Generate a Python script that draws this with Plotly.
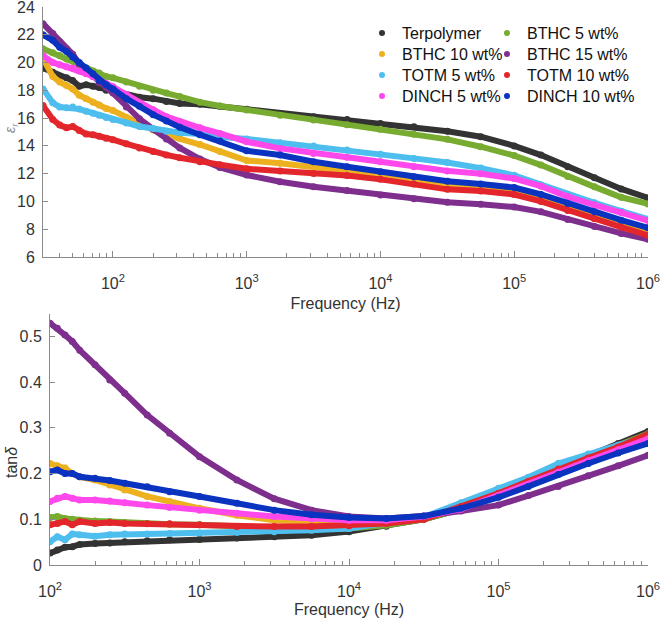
import plotly.graph_objects as go

# ---------------- data ----------------
names = ["Terpolymer", "BTHC 5 wt%", "BTHC 10 wt%", "BTHC 15 wt%",
         "TOTM 5 wt%", "TOTM 10 wt%", "DINCH 5 wt%", "DINCH 10 wt%"]
colors = ["#333333", "#77AC30", "#EDB120", "#7E2F8E",
          "#4DBEEE", "#E3262B", "#FF48EC", "#0A33BF"]

freq_top = [30, 35.5, 40, 45, 50, 56, 63, 71, 79, 89,
            100, 126, 158, 200, 251, 316, 447, 631, 1000, 1778,
            3162, 5623, 10000, 17783, 31623, 56234, 100000, 158489, 251189, 398107,
            630957, 1000000]

eps_terpolymer = [19.6, 19.3, 19.0, 18.9, 18.7, 18.3, 18.4, 18.3, 18.2, 18.0,
                  17.9, 17.7, 17.5, 17.4, 17.2, 17.05, 17.0, 16.85, 16.63, 16.34,
                  16.1, 15.9, 15.62, 15.38, 15.05, 14.66, 14.0, 13.34, 12.5, 11.7,
                  10.9, 10.25]
eps_bthc5 = [21.0, 20.7, 20.5, 20.25, 20.1, 19.8, 19.6, 19.4, 19.25, 19.0,
             18.9, 18.6, 18.3, 18.0, 17.8, 17.55, 17.15, 16.87, 16.58, 16.2,
             15.86, 15.53, 15.19, 14.83, 14.47, 13.94, 13.3, 12.62, 11.8, 11.05,
             10.3, 9.82]
eps_bthc10 = [20.3, 19.0, 18.6, 18.35, 18.1, 17.65, 17.4, 17.15, 16.95, 16.7,
              16.55, 16.05, 15.65, 15.15, 14.8, 14.55, 14.1, 13.6, 12.95, 12.75,
              12.5, 12.22, 11.9, 11.54, 11.18, 11.0, 10.7, 10.2, 9.55, 9.0,
              8.4, 7.8]
eps_bthc15 = [22.8, 22.1, 21.5, 21.0, 20.6, 19.9, 19.45, 19.0, 18.55, 18.2,
              17.8, 16.8, 15.95, 15.2, 14.5, 13.85, 13.05, 12.45, 11.9, 11.42,
              11.06, 10.78, 10.46, 10.2, 9.95, 9.8, 9.6, 9.25, 8.7, 8.2,
              7.7, 7.27]
eps_totm5 = [18.1, 17.1, 16.8, 16.75, 16.8, 16.65, 16.5, 16.35, 16.2, 16.05,
             15.9, 15.65, 15.4, 15.25, 15.05, 14.95, 14.85, 14.65, 14.5, 14.23,
             13.99, 13.7, 13.39, 13.1, 12.8, 12.4, 11.88, 11.2, 10.5, 9.9,
             9.3, 8.72]
eps_totm10 = [16.9, 15.9, 15.5, 15.3, 15.4, 15.1, 14.85, 14.8, 14.7, 14.55,
              14.45, 14.15, 13.85, 13.6, 13.35, 13.15, 12.85, 12.65, 12.35, 12.2,
              12.02, 11.86, 11.59, 11.26, 10.87, 10.75, 10.5, 10.0, 9.35, 8.75,
              8.15, 7.55]
eps_dinch5 = [20.5, 20.0, 19.85, 19.7, 19.6, 19.4, 19.2, 19.0, 18.8, 18.5,
              18.25, 17.7, 17.1, 16.6, 16.1, 15.75, 15.3, 14.9, 14.3, 13.82,
              13.46, 13.18, 12.86, 12.5, 12.2, 12.0, 11.65, 11.1, 10.35, 9.75,
              9.2, 8.62]
eps_dinch10 = [22.0, 21.6, 21.1, 20.8, 20.4, 20.0, 19.6, 19.2, 18.7, 18.4,
               18.1, 17.4, 16.85, 16.25, 15.8, 15.35, 14.8, 14.35, 13.65, 13.34,
               12.86, 12.5, 12.14, 11.78, 11.45, 11.25, 11.0, 10.5, 9.85, 9.25,
               8.65, 8.1]

freq_bot = [100, 112, 126, 141, 158, 200, 251, 316, 447, 631,
            1000, 1778, 3162, 5623, 10000, 17783, 31623, 56234, 100000, 158489,
            251189, 398107, 630957, 1000000]

tan_terpolymer = [0.026, 0.033, 0.039, 0.040, 0.045, 0.047, 0.048, 0.051, 0.053, 0.055,
                  0.056, 0.059, 0.062, 0.065, 0.073, 0.085, 0.100, 0.122, 0.155, 0.184,
                  0.212, 0.238, 0.266, 0.292]
tan_bthc5 = [0.104, 0.106, 0.102, 0.100, 0.098, 0.096, 0.095, 0.093, 0.091, 0.089,
             0.088, 0.084, 0.080, 0.078, 0.080, 0.087, 0.100, 0.122, 0.155, 0.182,
             0.210, 0.237, 0.262, 0.287]
tan_bthc10 = [0.222, 0.217, 0.212, 0.200, 0.193, 0.186, 0.175, 0.164, 0.150, 0.139,
              0.124, 0.109, 0.098, 0.094, 0.093, 0.095, 0.104, 0.122, 0.153, 0.178,
              0.205, 0.230, 0.255, 0.280]
tan_bthc15 = [0.529, 0.518, 0.503, 0.489, 0.470, 0.438, 0.405, 0.376, 0.328, 0.288,
              0.237, 0.186, 0.145, 0.120, 0.106, 0.102, 0.107, 0.118, 0.131, 0.152,
              0.172, 0.195, 0.217, 0.240]
tan_totm5 = [0.051, 0.062, 0.055, 0.068, 0.066, 0.063, 0.066, 0.068, 0.068, 0.069,
             0.070, 0.071, 0.073, 0.076, 0.080, 0.092, 0.105, 0.136, 0.168, 0.192,
             0.222, 0.243, 0.262, 0.280]
tan_totm10 = [0.088, 0.091, 0.095, 0.088, 0.095, 0.091, 0.093, 0.091, 0.090, 0.090,
              0.088, 0.084, 0.084, 0.084, 0.086, 0.091, 0.100, 0.128, 0.157, 0.183,
              0.210, 0.234, 0.258, 0.286]
tan_dinch5 = [0.139, 0.146, 0.150, 0.146, 0.142, 0.142, 0.140, 0.136, 0.131, 0.126,
              0.120, 0.113, 0.106, 0.101, 0.098, 0.098, 0.106, 0.122, 0.152, 0.176,
              0.203, 0.228, 0.252, 0.276]
tan_dinch10 = [0.204, 0.208, 0.200, 0.200, 0.193, 0.190, 0.185, 0.179, 0.171, 0.160,
               0.150, 0.135, 0.120, 0.110, 0.104, 0.102, 0.107, 0.124, 0.148, 0.172,
               0.198, 0.222, 0.245, 0.266]

eps_series = [eps_terpolymer, eps_bthc5, eps_bthc10, eps_bthc15,
              eps_totm5, eps_totm10, eps_dinch5, eps_dinch10]
tan_series = [tan_terpolymer, tan_bthc5, tan_bthc10, tan_bthc15,
              tan_totm5, tan_totm10, tan_dinch5, tan_dinch10]

decade_vals = [100, 1000, 10000, 100000, 1000000]
decade_text = ["10<sup>2</sup>", "10<sup>3</sup>", "10<sup>4</sup>",
               "10<sup>5</sup>", "10<sup>6</sup>"]
eps_ticks = [6, 8, 10, 12, 14, 16, 18, 20, 22, 24]
tan_ticks = [0, 0.1, 0.2, 0.3, 0.4, 0.5]
tan_ticktext = ["0", "0.1", "0.2", "0.3", "0.4", "0.5"]

# ---------------- figure ----------------
W, H = 661, 618
FONT = "Arial, Liberation Sans, sans-serif"
AX = "#8a8a8a"
TXT = "#333333"

minor_vals = [m * 10 ** e for e in range(1, 6) for m in range(2, 10)]

fig = go.Figure()
for i, (nm, col) in enumerate(zip(names, colors)):
    fig.add_trace(go.Scatter(
        x=freq_top, y=eps_series[i], mode="lines+markers", name=nm,
        line=dict(color=col, width=6), marker=dict(color=col, size=7),
        xaxis="x", yaxis="y", showlegend=False))
for i, (nm, col) in enumerate(zip(names, colors)):
    fig.add_trace(go.Scatter(
        x=freq_bot, y=tan_series[i], mode="lines+markers", name=nm,
        line=dict(color=col, width=6), marker=dict(color=col, size=7),
        xaxis="x2", yaxis="y2", showlegend=False))

# legend entries: one small legend per entry, laid out as 2 columns x 4 rows
legend_layouts = {}
col_x = [362, 487]
row_y = [33, 54, 75, 96]
for i, (nm, col) in enumerate(zip(names, colors)):
    key = "legend" if i == 0 else f"legend{i + 1}"
    fig.add_trace(go.Scatter(
        x=[None], y=[None], mode="markers", name=nm,
        marker=dict(color=col, size=6), xaxis="x", yaxis="y",
        legend=key, showlegend=True))
    legend_layouts[key] = dict(
        x=col_x[i % 2] / W, y=1 - row_y[i // 2] / H, xanchor="left", yanchor="middle",
        bgcolor="rgba(0,0,0,0)", borderwidth=0,
        font=dict(family=FONT, size=16, color="#111111"))

common_x = dict(type="log", showgrid=False, zeroline=False, showline=True,
                linecolor=AX, linewidth=1, ticks="inside", ticklen=6,
                tickcolor=AX, tickmode="array", tickvals=decade_vals,
                ticktext=decade_text, tickfont=dict(family=FONT, size=16, color=TXT),
                ticklabelstandoff=12, automargin=False,
                minor=dict(tickmode="array", tickvals=minor_vals, ticks="inside",
                           ticklen=4, tickcolor=AX),
                title=dict(text="Frequency (Hz)", font=dict(family=FONT, size=16, color=TXT),
                           standoff=6))
common_y = dict(showgrid=False, zeroline=False, showline=True, linecolor=AX,
                linewidth=1, ticks="inside", ticklen=5, tickcolor=AX,
                tickfont=dict(family=FONT, size=16, color=TXT), ticklabelstandoff=4,
                ticklabeloverflow="allow", automargin=False)

fig.update_layout(
    width=W, height=H, margin=dict(l=0, r=0, t=0, b=0, autoexpand=False),
    paper_bgcolor="white", plot_bgcolor="white",
    font=dict(family=FONT, color=TXT),
    xaxis=dict(common_x, domain=[43 / W, 648 / W], range=[1.477, 6.0], anchor="y"),
    yaxis=dict(common_y, domain=[1 - 257 / H, 1 - 7 / H], range=[6, 24],
               tickmode="array", tickvals=eps_ticks, anchor="x"),
    xaxis2=dict(common_x, domain=[50 / W, 648 / W], range=[2, 6], anchor="y2"),
    yaxis2=dict(common_y, domain=[1 - 565 / H, 1 - 313.6 / H], range=[0, 0.55],
                tickmode="array", tickvals=tan_ticks, ticktext=tan_ticktext,
                anchor="x2"),
    annotations=[
        dict(text="<i>ε<sub>r</sub></i>", x=11 / W, y=1 - 128 / H, xref="paper", yref="paper",
             xanchor="center", yanchor="middle",
             showarrow=False, textangle=-90, font=dict(family=FONT, size=14, color="#8a8a8a")),
        dict(text="tan<i>δ</i>", x=11 / W, y=1 - 462 / H, xref="paper", yref="paper",
             xanchor="center", yanchor="middle",
             showarrow=False, textangle=-90, font=dict(family=FONT, size=16, color=TXT)),
    ],
    **legend_layouts,
)

fig.write_html("out.html")
